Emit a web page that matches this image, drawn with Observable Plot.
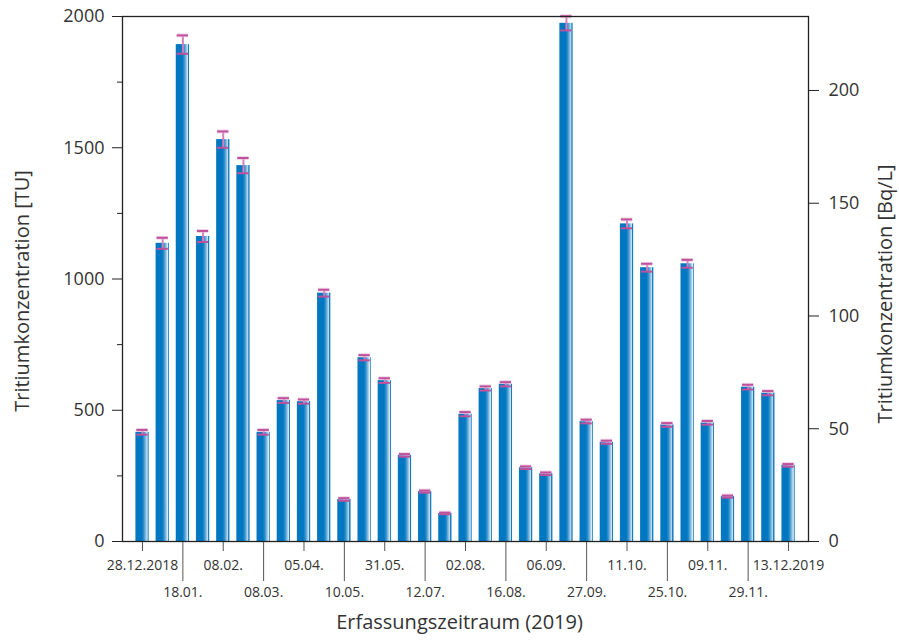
<!DOCTYPE html>
<html>
<head>
<meta charset="utf-8">
<script src="https://cdn.jsdelivr.net/npm/d3@7"></script>
<script src="https://cdn.jsdelivr.net/npm/@observablehq/plot@0.6"></script>
<style>
  html, body { margin: 0; padding: 0; background: #fff; }
  #chart svg { display: block; }
</style>
</head>
<body>
<div id="chart"></div>
<script>
// Tritium concentration per sampling period (TU)
const values = [416, 1136, 1893, 1162, 1531, 1432, 416, 537, 533, 946, 160, 700, 613, 328, 190, 107, 485, 583, 599, 281, 258, 1974, 457, 378, 1210, 1043, 444, 1058, 452, 171, 588, 565, 290];
// Measurement uncertainty (± TU)
const errors = [9, 21, 35, 21, 31, 29, 9, 9, 8, 13, 5, 10, 9, 5, 4, 3, 8, 8, 8, 5, 5, 27, 7, 6, 17, 15, 7, 15, 7, 4, 9, 8, 5];
// Date labels and the bar each one belongs to
const tickIndex = [0, 2, 4, 6, 8, 10, 12, 14, 16, 18, 20, 22, 24, 26, 28, 30, 32];
const tickLabels = ["28.12.2018", "18.01.", "08.02.", "08.03.", "05.04.", "10.05.", "31.05.", "12.07.", "02.08.", "16.08.", "06.09.", "27.09.", "11.10.", "25.10.", "09.11.", "29.11.", "13.12.2019"];
// Axis ticks
const leftTicks = [0, 500, 1000, 1500, 2000];
const leftMinorTicks = [250, 750, 1250, 1750];
const rightTicks = [0, 50, 100, 150, 200]; // Bq/L
const bqPerTU = 0.1164;

const data = values.map((v, i) => ({i, v, e: errors[i]}));
const labelOf = new Map(tickIndex.map((t, k) => [t, tickLabels[k]]));
const row1 = tickIndex.filter((t, k) => k % 2 === 0);
const row2 = tickIndex.filter((t, k) => k % 2 === 1);

const font = "'Open Sans', 'Noto Sans', sans-serif";
const textColor = "#333";

const chart = Plot.plot({
  width: 899,
  height: 643,
  marginLeft: 122,
  marginRight: 91,
  marginTop: 16,
  marginBottom: 102,
  style: {fontFamily: font, color: textColor, background: "#fff", overflow: "visible"},
  x: {type: "band", domain: d3.range(values.length), paddingInner: 0.34, paddingOuter: 0.66, round: false, axis: null},
  y: {domain: [0, 2000], axis: null},
  marks: [
    Plot.barY(data, {x: "i", y: "v", fill: "url(#barGrad)"}),
    Plot.ruleX(data, {x: "i", y1: d => d.v - d.e, y2: d => d.v + d.e, stroke: "#d27fba", strokeWidth: 2}),
    Plot.tickY(data, {x: "i", y: d => d.v + d.e, stroke: "#e6b8d8", strokeWidth: 4, strokeOpacity: 0.6, insetLeft: 1, insetRight: 1}),
    Plot.tickY(data, {x: "i", y: d => d.v + d.e, stroke: "#c0519c", strokeWidth: 2, insetLeft: 1, insetRight: 1}),
    Plot.tickY(data, {x: "i", y: d => d.v - d.e, stroke: "#c0519c", strokeWidth: 2, insetLeft: 1, insetRight: 1}),
    // left axis
    Plot.axisY({ticks: leftTicks, tickFormat: d3.format("d"), tickSize: 10, tickPadding: 8, fontSize: 18, label: null, stroke: "#222"}),
    Plot.axisY({ticks: leftMinorTicks, tickSize: 5, tickFormat: () => "", label: null, stroke: "#222"}),
    // right axis (Bq/L)
    Plot.axisY({anchor: "right", ticks: rightTicks.map(b => b / bqPerTU), tickFormat: d => d3.format("d")(Math.round(d * bqPerTU)), tickSize: 10, tickPadding: 10, fontSize: 18, label: null, stroke: "#222"}),
    // date axis: two staggered rows
    Plot.axisX({ticks: row1, tickFormat: i => labelOf.get(i), tickSize: 10, tickPadding: 9, fontSize: 14, label: null, stroke: "#555"}),
    Plot.axisX({ticks: row2, tickFormat: i => labelOf.get(i), tickSize: 40, tickPadding: 6, fontSize: 14, label: null, stroke: "#555"}),
    Plot.frame({stroke: "#222", strokeWidth: 1.3}),
    // axis titles
    Plot.text(["Tritiumkonzentration [TU]"], {frameAnchor: "left", textAnchor: "middle", dx: -100, dy: 12, rotate: -90, fontSize: 20, fill: textColor}),
    Plot.text(["Tritiumkonzentration [Bq/L]"], {frameAnchor: "right", textAnchor: "middle", dx: 77, dy: 15, rotate: -90, fontSize: 20, fill: textColor}),
    Plot.text(["Erfassungszeitraum (2019)"], {frameAnchor: "bottom", dy: 87, dx: -6, fontSize: 20, fill: textColor})
  ]
});

d3.select(chart).insert("defs", ":first-child").html(`
  <linearGradient id="barGrad" x1="0" x2="1" y1="0" y2="0">
    <stop offset="0%" stop-color="#2f8ccb"/>
    <stop offset="6%" stop-color="#0077c0"/>
    <stop offset="48%" stop-color="#0077c0"/>
    <stop offset="62%" stop-color="#2a8dcb"/>
    <stop offset="76%" stop-color="#7cb6de"/>
    <stop offset="88%" stop-color="#c8e0f1"/>
    <stop offset="91%" stop-color="#dcecf7"/>
    <stop offset="92%" stop-color="#1a80c5"/>
    <stop offset="100%" stop-color="#0a78c0"/>
  </linearGradient>
`);

document.getElementById("chart").appendChild(chart);
</script>
</body>
</html>
